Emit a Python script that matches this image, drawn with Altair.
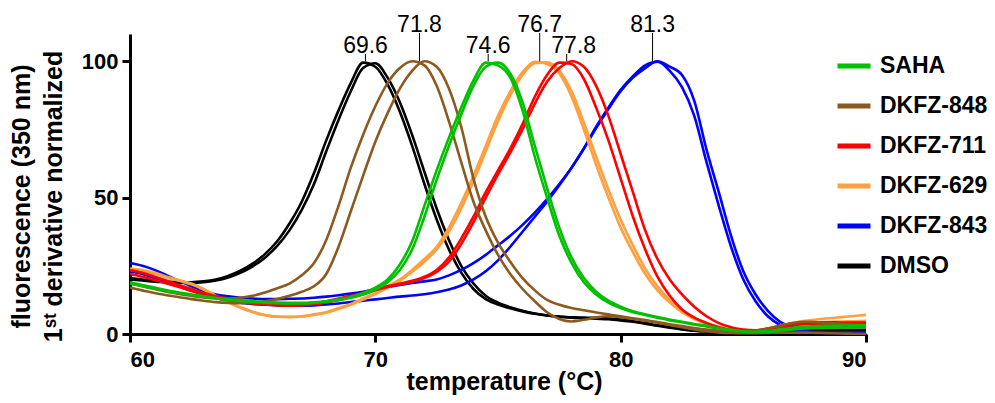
import altair as alt
import pandas as pd

# temperature sampling grid (°C)
TEMPS = [60 + 0.5 * i for i in range(61)]

COMPOUNDS = ["SAHA", "DKFZ-848", "DKFZ-711", "DKFZ-629", "DKFZ-843", "DMSO"]
COLORS = ["#00C000", "#8C5A1E", "#FF0000", "#FFA040", "#0000FF", "#000000"]

# normalized 1st derivative values, two replicates per compound
DMSO_A = [20.5, 20.0, 19.5, 19.2, 19.0, 19.0, 19.3, 20.0, 21.3, 23.2,
          25.8, 29.3, 34.0, 40.5, 48.5, 59.0, 71.0, 82.0, 92.0, 99.5,
          98.0, 91.5, 81.5, 69.0, 55.0, 42.0, 31.0, 22.5, 16.5, 12.8,
          10.8, 9.4, 8.3, 7.4, 6.8, 6.4, 6.1, 6.0, 5.9, 5.7,
          5.3, 4.7, 4.0, 3.2, 2.5, 1.8, 1.3, 1.0, 0.8, 0.7,
          0.7, 0.8, 1.0, 1.2, 1.4, 1.5, 1.5, 1.5, 1.5, 1.5,
          1.5]
DMSO_B = [20.0, 19.6, 19.2, 19.0, 18.8, 18.8, 19.0, 19.6, 20.7, 22.4,
          24.8, 28.0, 32.3, 38.0, 45.5, 55.0, 67.0, 78.5, 89.0, 97.5,
          99.3, 94.0, 85.0, 73.0, 59.5, 46.0, 34.5, 25.0, 18.5, 14.0,
          11.5, 9.8, 8.5, 7.5, 6.8, 6.3, 6.0, 5.8, 5.6, 5.4,
          5.0, 4.5, 3.8, 3.0, 2.3, 1.7, 1.2, 0.9, 0.7, 0.6,
          0.6, 0.7, 0.9, 1.1, 1.3, 1.4, 1.4, 1.4, 1.4, 1.4,
          1.4]
K848_A = [18.5, 17.5, 16.5, 15.5, 14.7, 14.0, 13.4, 13.1, 13.0, 13.3,
          14.0, 15.2, 16.8, 18.5, 21.5, 26.0, 34.5, 47.0, 61.0, 73.0,
          83.5, 92.0, 97.5, 100.0, 98.5, 91.0, 78.0, 63.0, 48.5, 38.0,
          29.0, 22.0, 16.5, 12.0, 8.0, 5.5, 4.6, 5.2, 6.1, 6.5,
          6.2, 5.6, 4.9, 4.1, 3.3, 2.5, 1.7, 1.0, 0.6, 0.4,
          0.3, 0.3, 0.4, 0.5, 0.5, 0.5, 0.4, 0.3, 0.2, 0.1,
          0.0]
K848_B = [17.0, 16.0, 15.0, 14.2, 13.5, 12.8, 12.2, 11.7, 11.4, 11.3,
          11.5, 12.0, 12.8, 14.0, 15.5, 17.5, 22.0, 32.0, 45.0, 58.0,
          70.5, 81.0, 90.0, 96.5, 100.0, 98.0, 90.0, 76.0, 57.0, 43.0,
          33.5, 26.5, 20.5, 16.0, 12.5, 10.7, 9.5, 8.7, 7.9, 7.2,
          6.5, 5.8, 5.1, 4.4, 3.6, 2.9, 2.2, 1.6, 1.2, 1.0,
          1.0, 1.3, 2.0, 3.0, 4.0, 4.5, 4.3, 4.0, 3.7, 3.5,
          3.3]
SAHA_A = [19.0, 18.0, 17.0, 16.0, 15.2, 14.5, 13.8, 13.2, 12.7, 12.3,
          12.0, 11.7, 11.5, 11.4, 11.4, 11.6, 12.0, 12.7, 13.6, 15.0,
          17.0, 20.0, 25.5, 34.0, 47.0, 60.0, 72.0, 83.0, 93.0, 99.5,
          98.5, 94.0, 82.0, 65.0, 50.0, 36.0, 26.0, 19.0, 14.5, 11.5,
          9.5, 8.0, 7.0, 6.0, 5.0, 4.3, 3.5, 2.8, 2.0, 1.3,
          0.8, 0.6, 0.8, 1.2, 1.7, 2.0, 2.2, 2.3, 2.4, 2.5,
          2.5]
SAHA_B = [18.5, 17.6, 16.7, 15.8, 15.0, 14.3, 13.6, 13.0, 12.5, 12.1,
          11.8, 11.5, 11.3, 11.2, 11.2, 11.4, 11.8, 12.4, 13.3, 14.5,
          16.3, 19.0, 23.5, 31.0, 43.0, 56.5, 69.0, 80.5, 91.0, 98.0,
          99.5, 95.5, 85.0, 69.0, 53.5, 39.0, 28.0, 20.5, 15.5, 12.2,
          10.0, 8.3, 7.2, 6.2, 5.3, 4.5, 3.7, 3.0, 2.2, 1.5,
          1.0, 0.8, 1.1, 1.7, 2.3, 2.7, 2.9, 3.0, 3.1, 3.2,
          3.2]
K629_A = [24.0, 23.5, 22.5, 21.0, 19.8, 18.5, 16.5, 14.0, 11.8, 9.8,
          8.2, 7.0, 6.4, 6.3, 6.5, 7.2, 8.0, 9.5, 11.0, 13.0,
          15.0, 17.5, 20.0, 23.5, 27.5, 32.0, 39.0, 48.0, 58.0, 69.0,
          80.0, 89.0, 96.0, 99.8, 99.0, 95.5, 87.0, 75.0, 62.0, 50.0,
          39.0, 30.0, 22.0, 16.0, 11.5, 8.0, 5.5, 3.8, 2.5, 1.5,
          1.0, 1.2, 2.0, 3.0, 4.0, 4.8, 5.3, 5.8, 6.2, 6.6,
          7.0]
K629_B = [23.5, 23.0, 22.0, 20.7, 19.5, 18.2, 16.3, 13.8, 11.6, 9.6,
          8.0, 6.9, 6.3, 6.2, 6.4, 7.0, 7.8, 9.2, 10.7, 12.6,
          14.6, 17.0, 19.5, 22.8, 26.5, 31.0, 37.5, 46.0, 56.0, 67.0,
          78.0, 87.5, 95.0, 99.3, 99.6, 96.5, 89.0, 77.5, 65.0, 53.0,
          42.0, 32.5, 24.0, 17.5, 12.5, 8.8, 6.0, 4.1, 2.7, 1.7,
          1.2, 1.3, 1.9, 2.7, 3.5, 4.0, 4.3, 4.5, 4.6, 4.7,
          4.8]
K711_A = [23.5, 22.5, 21.0, 19.5, 18.0, 16.5, 15.0, 13.8, 13.0, 12.3,
          11.8, 11.4, 11.2, 11.0, 11.0, 11.3, 12.0, 13.0, 14.0, 15.0,
          16.5, 17.5, 18.5, 19.5, 21.0, 23.5, 28.0, 35.0, 43.0, 52.0,
          60.0, 68.0, 77.0, 87.0, 95.0, 99.5, 99.0, 93.5, 83.0, 71.0,
          57.0, 43.0, 31.0, 21.0, 14.0, 9.0, 6.0, 4.0, 2.5, 1.5,
          1.0, 1.2, 2.0, 3.0, 3.8, 4.2, 4.3, 4.3, 4.2, 4.2,
          4.2]
K711_B = [22.0, 21.0, 19.8, 18.5, 17.2, 15.8, 14.5, 13.3, 12.4, 11.7,
          11.2, 10.8, 10.5, 10.4, 10.5, 10.9, 11.6, 12.5, 13.5, 14.6,
          16.0, 17.2, 18.2, 19.2, 20.5, 22.8, 26.5, 33.0, 41.0, 50.0,
          58.5, 66.5, 75.0, 84.5, 92.5, 97.5, 100.0, 98.0, 91.0, 80.0,
          66.0, 52.0, 38.0, 27.5, 20.0, 14.5, 10.0, 6.5, 4.0, 2.5,
          1.6, 1.4, 1.8, 2.5, 3.2, 3.6, 3.8, 3.8, 3.8, 3.8,
          3.8]
K843_A = [26.0, 25.0, 23.5, 21.5, 19.5, 17.5, 15.8, 14.5, 13.8, 13.3,
          13.0, 12.8, 12.8, 12.9, 13.0, 13.3, 13.7, 14.2, 14.8, 15.5,
          16.3, 17.2, 18.0, 18.7, 19.3, 20.0, 21.5, 23.5, 26.0, 29.0,
          32.5, 36.0, 40.0, 44.5, 49.5, 55.0, 61.0, 68.0, 76.0, 83.0,
          89.5, 94.5, 98.5, 99.8, 96.5, 90.5, 80.0, 63.0, 47.0, 32.0,
          20.0, 12.0, 6.5, 3.3, 1.6, 0.8, 0.5, 0.4, 0.4, 0.4,
          0.4]
K843_B = [23.0, 22.0, 20.5, 19.0, 17.5, 16.0, 14.5, 13.2, 12.2, 11.5,
          11.0, 10.7, 10.5, 10.4, 10.4, 10.5, 10.8, 11.2, 11.7, 12.2,
          12.7, 13.2, 13.7, 14.1, 14.6, 15.3, 16.3, 17.8, 20.0, 23.0,
          27.0, 32.0, 37.5, 43.0, 48.5, 54.5, 61.0, 68.0, 75.5, 82.5,
          89.0, 94.0, 97.5, 100.0, 98.0, 95.0, 85.5, 67.6, 52.0, 36.0,
          23.0, 14.5, 8.5, 4.5, 2.5, 1.2, 0.7, 0.5, 0.5, 0.5,
          0.5]

# peak (Tm) annotations
PEAK_TM = [69.6, 71.8, 74.6, 76.7, 77.8, 81.3]
PEAK_TEXT = ["69.6", "71.8", "74.6", "76.7", "77.8", "81.3"]
PEAK_TIER = ["low", "high", "low", "high", "shift", "high"]

# drawing order: DMSO first, SAHA on top
SERIES = [
    ("DMSO", DMSO_A, DMSO_B),
    ("DKFZ-843", K843_A, K843_B),
    ("DKFZ-629", K629_A, K629_B),
    ("DKFZ-711", K711_A, K711_B),
    ("DKFZ-848", K848_A, K848_B),
    ("SAHA", SAHA_A, SAHA_B),
]

rows = []
for name, rep_a, rep_b in SERIES:
    for rep, vals in (("a", rep_a), ("b", rep_b)):
        for t, v in zip(TEMPS, vals):
            rows.append({"compound": name, "series": name + "-" + rep, "temp": t, "value": v})
df = pd.DataFrame(rows)

peaks = pd.DataFrame({"tm": PEAK_TM, "text": PEAK_TEXT, "tier": PEAK_TIER})

FONT = "Liberation Sans"

x_enc = alt.X("temp:Q",
              scale=alt.Scale(domain=[60, 90], nice=False, zero=False),
              axis=alt.Axis(values=[60, 70, 80, 90], title="temperature (°C)",
                            titleX=374, titleY=55, titleBaseline="alphabetic",
                            labelPadding=7))
y_enc = alt.Y("value:Q",
              scale=alt.Scale(domain=[0, 110], nice=False),
              axis=alt.Axis(values=[0, 50, 100],
                            title=["fluorescence (350 nm)", "1ˢᵗ derivative normalized"],
                            titleX=-101, titleY=162, titleAngle=-90,
                            titleAlign="center", titleBaseline="alphabetic",
                            titleLineHeight=32, labelPadding=4))

lines = alt.Chart(df).mark_line(interpolate="monotone", strokeWidth=2.6).encode(
    x=x_enc,
    y=y_enc,
    color=alt.Color("compound:N",
                    scale=alt.Scale(domain=COMPOUNDS, range=COLORS),
                    legend=alt.Legend(title=None, orient="none", legendX=705, legendY=13,
                                      symbolType="stroke", symbolStrokeWidth=5,
                                      symbolSize=1089, labelFontSize=23,
                                      labelFontWeight="bold", labelFont=FONT,
                                      labelColor="black", labelOffset=7,
                                      rowPadding=9, labelLimit=200)),
    detail="series:N",
)

tick_x = alt.X("tm:Q", scale=alt.Scale(domain=[60, 90], nice=False, zero=False))

low = peaks[peaks["tier"] != "high"]
high = peaks[peaks["tier"] == "high"]

rules_low = alt.Chart(low).mark_rule(color="black", strokeWidth=1).encode(
    x=tick_x, y=alt.value(27.3), y2=alt.value(20))
rules_high = alt.Chart(high).mark_rule(color="black", strokeWidth=1).encode(
    x=tick_x, y=alt.value(27.3), y2=alt.value(-1))

text_style = dict(font=FONT, fontSize=23, color="black", baseline="alphabetic", align="center")
text_low = alt.Chart(peaks[peaks["tier"] == "low"]).mark_text(**text_style).encode(
    x=tick_x, y=alt.value(18.5), text="text:N")
text_shift = alt.Chart(peaks[peaks["tier"] == "shift"]).mark_text(dx=7, **text_style).encode(
    x=tick_x, y=alt.value(18.5), text="text:N")
text_high = alt.Chart(high).mark_text(**text_style).encode(
    x=tick_x, y=alt.value(-2), text="text:N")

chart = alt.layer(lines, rules_low, rules_high, text_low, text_shift, text_high).properties(
    width=736, height=300,
    background="white",
    autosize=alt.AutoSizeParams(type="none"),
    padding={"left": 122, "top": 26, "right": 121, "bottom": 61},
).configure_view(stroke=None).configure_axis(
    grid=False,
    domainColor="black", domainWidth=3,
    tickColor="black", tickWidth=3, tickSize=8,
    labelFont=FONT, labelFontSize=22, labelFontWeight="bold", labelColor="black",
    titleFont=FONT, titleFontSize=25, titleFontWeight="bold", titleColor="black",
)

chart.save("out.html", embed_options={"renderer": "svg", "actions": False})
